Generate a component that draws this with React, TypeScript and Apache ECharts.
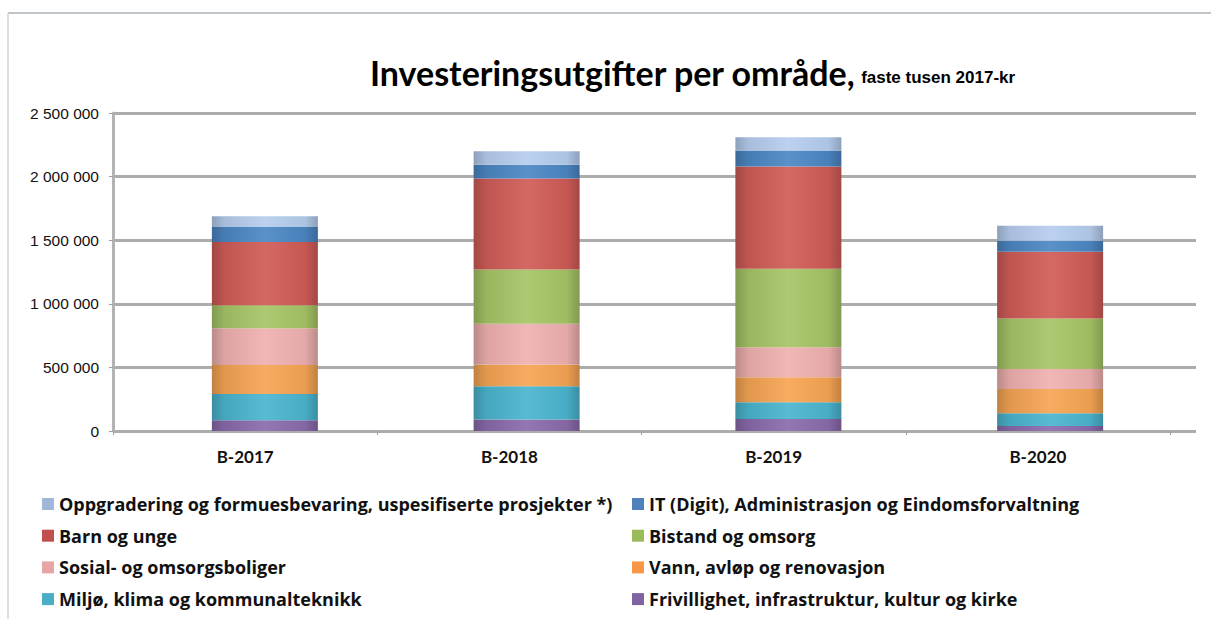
import React, { useEffect, useRef } from "react";
import * as echarts from "echarts";

const categories = ["B-2017", "B-2018", "B-2019", "B-2020"];

const frivillighet = [85000, 90000, 95000, 40000];
const miljo = [205000, 262000, 132000, 100000];
const vann = [228000, 170000, 196000, 190000];
const sosial = [290000, 322000, 236000, 157000];
const bistand = [181000, 425000, 616000, 398000];
const barn = [496000, 716000, 805000, 524000];
const it = [118000, 109000, 125000, 87000];
const oppgradering = [85000, 105000, 105000, 118000];

const yTicks = [0, 500000, 1000000, 1500000, 2000000, 2500000];

const seriesDefs = [
  { name: "Frivillighet, infrastruktur, kultur og kirke", data: frivillighet, color: "#8a6bab", legend: "#8064a2" },
  { name: "Miljø, klima og kommunalteknikk", data: miljo, color: "#4bb5cf", legend: "#4bacc6" },
  { name: "Vann, avløp og renovasjon", data: vann, color: "#f6a553", legend: "#f79646" },
  { name: "Sosial- og omsorgsboliger", data: sosial, color: "#efb1b0", legend: "#e6a5a4" },
  { name: "Bistand og omsorg", data: bistand, color: "#a6c566", legend: "#9bbb59" },
  { name: "Barn og unge", data: barn, color: "#d05c57", legend: "#c0504d" },
  { name: "IT (Digit), Administrasjon og Eindomsforvaltning", data: it, color: "#4c87c4", legend: "#4f81bd" },
  { name: "Oppgradering og formuesbevaring, uspesifiserte prosjekter *)", data: oppgradering, color: "#b5cdee", legend: "#a2b6da" },
];

const leftLegend = [
  "Oppgradering og formuesbevaring, uspesifiserte prosjekter *)",
  "Barn og unge",
  "Sosial- og omsorgsboliger",
  "Miljø, klima og kommunalteknikk",
];
const rightLegend = [
  "IT (Digit), Administrasjon og Eindomsforvaltning",
  "Bistand og omsorg",
  "Vann, avløp og renovasjon",
  "Frivillighet, infrastruktur, kultur og kirke",
];

function shade(hex: string, f: number): string {
  const n = parseInt(hex.slice(1), 16);
  let r = (n >> 16) & 255, g = (n >> 8) & 255, b = n & 255;
  const adj = (c: number) => Math.max(0, Math.min(255, Math.round(f < 0 ? c * (1 + f) : c + (255 - c) * f)));
  r = adj(r); g = adj(g); b = adj(b);
  return "rgb(" + r + "," + g + "," + b + ")";
}

function fmt(v: number): string {
  return String(v).replace(/\B(?=(\d{3})+(?!\d))/g, " ");
}

export default function App() {
  const ref = useRef<HTMLDivElement>(null);
  useEffect(() => {
    if (!ref.current) return;
    const chart = echarts.init(ref.current, undefined, { renderer: "svg" });
    const top = 113;
    const bottom = 619 - 431;
    const legendText = {
      fontFamily: "'Open Sans', Lato, sans-serif",
      fontWeight: "bold",
      fontSize: 18,
      color: "#111",
      lineHeight: 20,
    };
    const colorMap: Record<string, string> = {};
    seriesDefs.forEach((s) => (colorMap[s.name] = s.legend));
    const legendBase = {
      orient: "vertical",
      top: 494,
      height: 125,
      padding: 0,
      itemWidth: 12,
      itemHeight: 12,
      itemGap: 11.7,
      icon: "rect",
      textStyle: legendText,
    };
    const option: any = {
      animation: false,
      backgroundColor: "#ffffff",
      title: {
        left: 370,
        top: 55,
        padding: 0,
        text: "{a|Investeringsutgifter per område,} {b|faste tusen 2017-kr}",
        textStyle: {
          rich: {
            a: { fontFamily: "Lato, 'Open Sans', sans-serif", fontWeight: "bold", fontSize: 34, color: "#000" },
            b: { fontFamily: "'Liberation Sans Narrow', 'Liberation Sans', sans-serif", fontWeight: "bold", fontSize: 17, color: "#000", verticalAlign: "bottom", padding: [0, 0, 3, 0] },
          },
        },
      },
      grid: [
        { left: 113, right: 15, top, bottom },
        { left: 134, right: 30, top, bottom },
        { left: 113, right: 41, top, bottom },
      ],
      xAxis: [
        { type: "category", gridIndex: 0, data: categories, show: false },
        { type: "category", gridIndex: 1, data: categories, show: false },
        {
          type: "category",
          gridIndex: 2,
          data: categories,
          axisLine: { show: false },
          axisTick: { show: true, length: 4, lineStyle: { color: "#a0a0a0", width: 1 } },
          axisLabel: {
            margin: 17,
            fontFamily: "Lato, 'Open Sans', sans-serif",
            fontWeight: "bold",
            fontSize: 17,
            color: "#111",
          },
          splitLine: { show: false },
        },
      ],
      yAxis: [
        {
          type: "value",
          gridIndex: 0,
          min: 0,
          max: 2500000,
          interval: 500000,
          axisLine: { show: true, lineStyle: { color: "#b3b3b3", width: 3 } },
          axisTick: { show: true, length: 4, lineStyle: { color: "#a0a0a0", width: 1 } },
          splitLine: { show: true, lineStyle: { color: "#acacac", width: 3 } },
          axisLabel: {
            margin: 14,
            fontFamily: "'Liberation Sans', Arial, sans-serif",
            fontSize: 15.5,
            color: "#111",
            formatter: (v: number) => (yTicks.indexOf(v) >= 0 ? fmt(v) : ""),
          },
        },
        { type: "value", gridIndex: 1, min: 0, max: 2500000, show: false, splitLine: { show: false } },
        { type: "value", gridIndex: 2, min: 0, max: 2500000, show: false, splitLine: { show: false } },
      ],
      legend: [
        Object.assign({}, legendBase, {
          left: 42,
          data: leftLegend.map((n) => ({ name: n, itemStyle: { color: colorMap[n] } })),
        }),
        Object.assign({}, legendBase, {
          left: 632,
          data: rightLegend.map((n) => ({ name: n, itemStyle: { color: colorMap[n] } })),
        }),
      ],
      graphic: [
        { type: "line", shape: { x1: 8, y1: 13, x2: 1211, y2: 13 }, style: { stroke: "#aab0b6", lineWidth: 1.5 } },
        { type: "line", shape: { x1: 8, y1: 13, x2: 8, y2: 619 }, style: { stroke: "#d2d6da", lineWidth: 1.5 } },
      ],
      series: seriesDefs.map((s) => ({
        name: s.name,
        type: "bar",
        stack: "total",
        xAxisIndex: 1,
        yAxisIndex: 1,
        barWidth: 106,
        data: s.data,
        itemStyle: {
          color: {
            type: "linear",
            x: 0,
            y: 0,
            x2: 1,
            y2: 0,
            colorStops: [
              { offset: 0, color: shade(s.color, -0.22) },
              { offset: 0.12, color: shade(s.color, -0.08) },
              { offset: 0.5, color: shade(s.color, 0.08) },
              { offset: 0.88, color: shade(s.color, -0.05) },
              { offset: 1, color: shade(s.color, -0.22) },
            ],
          },
          borderWidth: 0,
        },
      })),
    };
    chart.setOption(option);
    return () => chart.dispose();
  }, []);
  return (
    <div
      ref={ref}
      style={{ position: "fixed", left: 0, top: 0, width: 1211, height: 619, background: "#fff" }}
    />
  );
}
